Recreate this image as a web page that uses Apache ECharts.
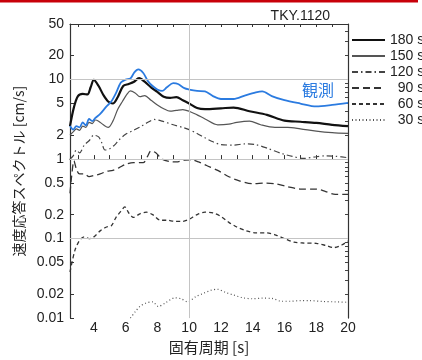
<!DOCTYPE html>
<html>
<head>
<meta charset="utf-8">
<script src="https://cdn.jsdelivr.net/npm/echarts@6/dist/echarts.min.js"></script>
<style>
  html, body { margin: 0; padding: 0; background: #fff; }
  #chart { width: 422px; height: 360px; }
</style>
</head>
<body>
<div id="chart"></div>
<script>
// 速度応答スペクトル (TKY.1120), 周期 [s] と応答値 [cm/s]
const yTicks = [0.01, 0.02, 0.05, 0.1, 0.2, 0.5, 1, 2, 5, 10, 20, 50]
const yTickLabels = ['0.01', '0.02', '0.05', '0.1', '0.2', '0.5', '1', '2', '5', '10', '20', '50']
const yMinorTicks = [0.02, 0.03, 0.04, 0.05, 0.06, 0.07, 0.08, 0.09, 0.1, 0.2, 0.3, 0.4, 0.5, 0.6, 0.7, 0.8, 0.9,
  1, 2, 3, 4, 5, 6, 7, 8, 9, 10, 20, 30, 40]
const xTicks = [4, 6, 8, 10, 12, 14, 16, 18, 20]
const xMinorTicks = [3, 4, 5, 6, 7, 8, 9, 10, 11, 12, 13, 14, 15, 16, 17, 18, 19]
const gridY = [0.1, 1, 10]
const gridX = [10]

const legendNames = ['180 s', '150 s', '120 s', '90 s', '60 s', '30 s']

const t180 = [2.5, 2.75, 3.0, 3.3, 3.6, 3.8, 4.0, 4.3, 4.6, 4.9, 5.2, 5.5, 5.85, 6.2, 6.5, 6.85, 7.2, 7.6, 8.0, 8.4, 8.8, 9.2, 9.6, 10.0, 10.5, 11.0, 12.0, 12.8, 13.8, 14.9, 16.0, 17.0, 18.0, 19.0, 20.0]
const v180 = [2.6, 4.5, 6.2, 6.6, 6.5, 8.0, 9.9, 8.3, 6.4, 5.3, 5.0, 6.0, 8.3, 8.8, 9.3, 10.4, 9.4, 8.0, 7.0, 6.1, 5.9, 6.0, 5.5, 5.0, 4.4, 4.25, 4.35, 4.45, 4.0, 3.6, 3.05, 2.95, 2.85, 2.7, 2.6]

const t150 = [2.5, 2.7, 2.9, 3.1, 3.3, 3.5, 3.7, 3.9, 4.1, 4.3, 4.6, 4.9, 5.2, 5.5, 5.8, 6.1, 6.3, 6.6, 6.9, 7.2, 7.6, 8.0, 8.4, 8.8, 9.2, 9.6, 10.0, 10.5, 11.0, 11.8, 12.5, 13.0, 13.8, 14.5, 15.4, 16.2, 17.0, 18.0, 19.0, 20.0]
const v150 = [2.0, 2.2, 2.4, 2.3, 2.6, 2.5, 2.9, 2.8, 3.1, 3.0, 2.7, 2.5, 3.0, 4.2, 5.3, 6.6, 7.2, 6.8, 6.1, 6.3, 5.5, 4.8, 4.3, 4.0, 4.1, 4.2, 4.0, 3.6, 3.2, 2.7, 2.75, 2.9, 3.0, 2.7, 2.5, 2.5, 2.4, 2.25, 2.15, 2.1]

const t120 = [2.5, 2.7, 2.9, 3.1, 3.4, 3.7, 4.0, 4.3, 4.5, 4.7, 5.0, 5.3, 5.6, 6.0, 6.5, 7.0, 7.4, 7.8, 8.3, 9.0, 9.6, 10.0, 10.5, 11.0, 11.5, 12.0, 12.8, 13.5, 14.2, 15.0, 15.8, 16.5, 17.2, 18.0, 18.6, 19.3, 20.0]
const v120 = [1.0, 1.1, 1.3, 1.2, 1.5, 1.7, 2.0, 1.9, 1.6, 1.3, 1.35, 1.5, 1.75, 2.05, 2.3, 2.6, 2.9, 3.15, 3.0, 2.7, 2.5, 2.35, 2.1, 1.85, 1.65, 1.52, 1.5, 1.55, 1.52, 1.35, 1.18, 1.08, 1.02, 1.07, 1.1, 1.08, 1.04]

const t90 = [2.5, 2.6, 2.75, 2.9, 3.1, 3.4, 3.7, 4.0, 4.4, 4.8, 5.2, 5.6, 6.0, 6.5, 7.1, 7.4, 7.6, 7.9, 8.3, 8.8, 9.2, 9.7, 10.1, 10.6, 11.1, 11.8, 12.5, 13.2, 14.0, 14.8, 15.4, 16.2, 17.0, 18.0, 18.6, 19.2, 20.0]
const v90 = [0.37, 0.6, 0.95, 0.75, 0.65, 0.65, 0.6, 0.62, 0.65, 0.7, 0.72, 0.78, 0.86, 0.9, 0.9, 1.1, 1.27, 1.2, 1.0, 0.93, 0.92, 0.97, 0.98, 0.92, 0.83, 0.72, 0.6, 0.53, 0.49, 0.5, 0.49, 0.45, 0.42, 0.42, 0.39, 0.36, 0.36]

const t60 = [2.5, 2.8, 3.1, 3.4, 3.7, 4.0, 4.4, 4.8, 5.1, 5.4, 5.7, 5.95, 6.2, 6.5, 6.9, 7.3, 7.7, 8.2, 8.6, 9.1, 9.6, 10.0, 10.5, 11.0, 11.5, 12.0, 12.5, 13.0, 13.6, 14.2, 14.9, 15.5, 16.0, 16.6, 17.2, 18.0, 18.6, 19.1, 19.6, 20.0]
const v60 = [0.038, 0.07, 0.095, 0.105, 0.1, 0.105, 0.125, 0.14, 0.145, 0.185, 0.22, 0.25, 0.21, 0.185, 0.205, 0.215, 0.2, 0.17, 0.17, 0.165, 0.165, 0.175, 0.2, 0.215, 0.21, 0.19, 0.16, 0.14, 0.125, 0.118, 0.118, 0.11, 0.1, 0.09, 0.088, 0.087, 0.082, 0.077, 0.083, 0.093]

const t30 = [6.3, 6.6, 6.9, 7.3, 7.7, 8.05, 8.5, 9.1, 9.5, 9.9, 10.4, 10.9, 11.4, 11.8, 12.3, 12.8, 13.4, 14.0, 14.6, 15.2, 15.8, 16.4, 17.0, 17.6, 18.4, 19.2, 20.0]
const v30 = [0.01, 0.012, 0.014, 0.0155, 0.016, 0.014, 0.0155, 0.018, 0.0175, 0.016, 0.0185, 0.0205, 0.0225, 0.023, 0.021, 0.0195, 0.018, 0.0175, 0.0178, 0.0177, 0.0163, 0.0163, 0.0166, 0.0166, 0.0162, 0.016, 0.0158]

const tObs = [2.5, 2.7, 2.9, 3.1, 3.3, 3.5, 3.7, 3.9, 4.1, 4.4, 4.8, 5.1, 5.4, 5.7, 6.0, 6.3, 6.55, 6.8, 7.1, 7.4, 7.7, 8.0, 8.3, 8.6, 9.0, 9.3, 9.7, 10.0, 10.5, 11.0, 11.5, 12.0, 12.8, 13.5, 14.2, 14.6, 15.2, 16.0, 17.0, 18.0, 19.0, 20.0]
const vObs = [2.6, 2.35, 2.6, 2.5, 2.9, 2.65, 3.2, 3.0, 3.3, 3.7, 4.6, 5.3, 6.8, 9.2, 10.0, 10.3, 12.3, 13.4, 12.2, 9.6, 8.3, 7.5, 7.2, 8.0, 9.0, 8.8, 7.8, 7.5, 7.2, 7.1, 6.2, 5.7, 5.7, 6.3, 6.9, 7.1, 6.2, 5.5, 5.0, 4.6, 4.8, 5.1]

const log10 = Math.log10
const yMin = log10(0.01)
const yMax = log10(50)
const pairs = (ts, vs) => ts.map((t, i) => [t, log10(vs[i])])

function yLabel(v) {
  const i = yTicks.findIndex(t => Math.abs(log10(t) - v) < 1e-6)
  return i >= 0 ? yTickLabels[i] : ''
}

const font = 'Liberation Sans, Arial, sans-serif'
const cjk = 'Noto Sans CJK JP, sans-serif'

function lineSeries(name, ts, vs, style) {
  return {
    name: name,
    type: 'line',
    symbol: 'none',
    smooth: 0.3,
    z: 3,
    itemStyle: { color: style.color },
    lineStyle: style,
    data: pairs(ts, vs)
  }
}

const chart = echarts.init(document.getElementById('chart'))
chart.setOption({
  animation: false,
  backgroundColor: '#fff',
  title: {
    text: 'TKY.1120',
    right: 87,
    top: 4,
    textStyle: { fontSize: 14, fontWeight: 'normal', color: '#222', fontFamily: font }
  },
  legend: {
    data: legendNames,
    orient: 'vertical',
    left: 351,
    top: 33,
    itemWidth: 33,
    itemHeight: 14,
    itemGap: 2,
    padding: 0,
    selectedMode: false,
    itemStyle: { opacity: 0 },
    formatter: n => (n.length < 5 ? '\u2007' + n : n),
    textStyle: { fontSize: 14, color: '#222', fontFamily: font, width: 40, overflow: 'none' }
  },
  grid: { left: 70, right: 74, top: 24, bottom: 36 },
  xAxis: [
    {
      type: 'value',
      min: 2.5,
      max: 20,
      name: '固有周期 [s]',
      nameLocation: 'middle',
      nameGap: 20,
      nameTextStyle: { fontSize: 15, color: '#222', fontFamily: cjk },
      axisLine: { lineStyle: { color: '#333', width: 1.2 } },
      axisTick: { inside: true, length: 4, customValues: xMinorTicks, lineStyle: { color: '#333' } },
      axisLabel: { customValues: xTicks, margin: 3, fontSize: 14, color: '#222', fontFamily: font },
      splitLine: { show: false }
    },
    {
      type: 'value',
      position: 'top',
      min: 2.5,
      max: 20,
      axisLine: { show: true, onZero: false, lineStyle: { color: '#333', width: 1.2 } },
      axisTick: { show: true, inside: true, length: 3, customValues: xMinorTicks, lineStyle: { color: '#333' } },
      axisLabel: { show: false },
      splitLine: { show: false }
    }
  ],
  yAxis: [
    {
      type: 'value',
      min: yMin,
      max: yMax,
      name: '速度応答スペクトル [cm/s]',
      nameLocation: 'middle',
      nameGap: 38,
      nameTextStyle: { fontSize: 14, color: '#222', fontFamily: cjk },
      axisLine: { show: true, lineStyle: { color: '#333', width: 1.2 } },
      axisTick: { show: true, inside: true, length: 4, customValues: yTicks.map(log10), lineStyle: { color: '#333' } },
      axisLabel: { customValues: yTicks.map(log10), formatter: yLabel, margin: 6, fontSize: 14, color: '#222', fontFamily: font },
      splitLine: { show: false }
    },
    {
      type: 'value',
      position: 'right',
      min: yMin,
      max: yMax,
      axisLine: { show: true, onZero: false, lineStyle: { color: '#333', width: 1.2 } },
      axisTick: { show: true, inside: true, length: 3, customValues: yMinorTicks.map(log10), lineStyle: { color: '#444' } },
      axisLabel: { show: false },
      splitLine: { show: false }
    }
  ],
  graphic: [
    { type: 'rect', left: 0, top: 0, shape: { width: 418, height: 2.5 }, style: { fill: '#c8000a' } },
    {
      type: 'text', left: 302, top: 82,
      style: { text: '観測', fontSize: 16, fill: '#2b7be0', fontFamily: cjk }
    }
  ],
  series: [
    {
      name: 'grid',
      type: 'line',
      data: [],
      z: 1,
      markLine: {
        silent: true,
        symbol: 'none',
        label: { show: false },
        lineStyle: { color: '#c4c4c4', width: 1, type: 'solid' },
        data: gridY.map(v => ({ yAxis: log10(v) })).concat(gridX.map(v => ({ xAxis: v })))
      }
    },
    lineSeries('30 s', t30, v30, { color: '#555', width: 1.2, type: [1, 2.5] }),
    lineSeries('60 s', t60, v60, { color: '#333', width: 1.3, type: [4, 3] }),
    lineSeries('90 s', t90, v90, { color: '#333', width: 1.3, type: [7, 4] }),
    lineSeries('120 s', t120, v120, { color: '#444', width: 1.2, type: [6, 3, 1.5, 3] }),
    lineSeries('150 s', t150, v150, { color: '#555', width: 1.2 }),
    lineSeries('180 s', t180, v180, { color: '#111', width: 2.2 }),
    lineSeries('観測', tObs, vObs, { color: '#2b7be0', width: 1.8 })
  ]
})
</script>
</body>
</html>
